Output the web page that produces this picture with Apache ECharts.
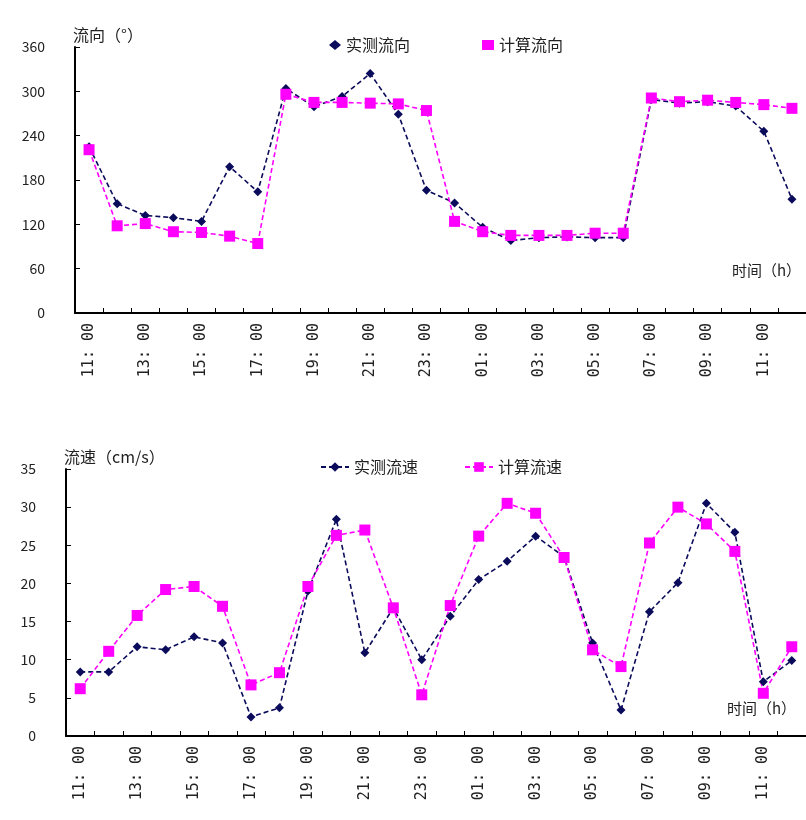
<!DOCTYPE html>
<html><head><meta charset="utf-8">
<script src="https://cdn.jsdelivr.net/npm/echarts@6/dist/echarts.min.js"></script>
<style>html,body{margin:0;padding:0;background:#fff}#c{width:806px;height:820px}</style>
</head><body><div id="c"></div>
<script>
const categories = ["11:00","12:00","13:00","14:00","15:00","16:00","17:00","18:00","19:00","20:00","21:00","22:00","23:00","00:00","01:00","02:00","03:00","04:00","05:00","06:00","07:00","08:00","09:00","10:00","11:00","12:00"];
const dirMeasured = [225,148,132,129,124,198,164,304,279,293,324,269,166,149,116,98,102,103,102,102,289,284,286,280,246,154];
const dirComputed = [221,118,121,110,109,104,94,296,285,285,284,283,274,124,110,105,105,105,108,108,291,286,288,285,282,277];
const spdMeasured = [8.4,8.4,11.7,11.3,13.0,12.2,2.5,3.7,19.0,28.4,10.9,16.8,10.0,15.7,20.5,22.9,26.2,23.5,12.2,3.4,16.3,20.1,30.5,26.7,7.1,9.9];
const spdComputed = [6.2,11.1,15.8,19.2,19.6,17.0,6.7,8.3,19.6,26.3,27.0,16.8,5.4,17.1,26.2,30.5,29.2,23.4,11.3,9.1,25.3,30.0,27.8,24.2,5.6,11.7];
const dirTicks = {min:0,max:360,interval:60};
const spdTicks = {min:0,max:35,interval:5};

const NAVY = '#0b0b5c', MAG = '#ff00ff';
const FONT = '"Noto Sans CJK SC", "DejaVu Sans", sans-serif';
const MONO = '"DejaVu Sans Mono", monospace';
const chart = echarts.init(document.getElementById('c'), null, {renderer:'canvas'});

function xAxis(gi){
  return {type:'category', gridIndex:gi, data:categories, boundaryGap:true,
    axisLine:{lineStyle:{color:'#000',width:2}},
    axisTick:{show:true, inside:true, interval:0, length:5, lineStyle:{color:'#000'}},
    axisLabel:{interval:1, rotate:90, color:'#222', fontSize:15, fontFamily:MONO, margin:10,
      formatter: v => v.replace(':', ': ')},
    splitLine:{show:false}};
}
function yAxis(gi, t, name){
  return {type:'value', gridIndex:gi, min:t.min, max:t.max, interval:t.interval,
    name:name, nameLocation:'end', nameGap:4,
    nameTextStyle:{align:'left', color:'#222', fontSize:16, fontFamily:FONT, padding:[0,0,0,-2]},
    axisLine:{show:true, lineStyle:{color:'#000',width:2}},
    axisTick:{show:true, inside:true, length:5, lineStyle:{color:'#000'}},
    axisLabel:{color:'#222', fontSize:14, fontFamily:FONT, margin:30},
    splitLine:{show:false}};
}
function series(name, data, gi, color, symbol, size){
  return {name:name, type:'line', xAxisIndex:gi, yAxisIndex:gi, data:data,
    symbol:symbol, symbolSize:size, itemStyle:{color:color},
    lineStyle:{color:color, width:1.6, type:[5,3]}, animation:false};
}

chart.setOption({
  animation:false,
  grid:[{left:75, right:-6, top:47, height:266},
        {left:66, right:-5, top:469, height:267}],
  xAxis:[xAxis(0), xAxis(1)],
  yAxis:[yAxis(0, dirTicks, '流向（°）'), yAxis(1, spdTicks, '流速（cm/s）')],
  legend:[
    {left:324, top:32, itemGap:72, itemWidth:12, itemHeight:10,
     textStyle:{fontSize:16, fontFamily:FONT, color:'#222'},
     data:[{name:'实测流向', icon:'diamond'},{name:'计算流向', icon:'rect'}]},
    {left:315, top:454, itemGap:46, itemWidth:28, itemHeight:12,
     textStyle:{fontSize:16, fontFamily:FONT, color:'#222'},
     data:['实测流速','计算流速']}
  ],
  graphic:[
    {type:'text', right:5, top:263, style:{text:'时间（h）', font:'15px '+FONT, fill:'#222'}},
    {type:'text', right:10, top:701, style:{text:'时间（h）', font:'15px '+FONT, fill:'#222'}}
  ],
  series:[
    series('实测流向', dirMeasured, 0, NAVY, 'diamond', 9),
    series('计算流向', dirComputed, 0, MAG, 'rect', 11),
    series('实测流速', spdMeasured, 1, NAVY, 'diamond', 9),
    series('计算流速', spdComputed, 1, MAG, 'rect', 11)
  ]
});
</script></body></html>
